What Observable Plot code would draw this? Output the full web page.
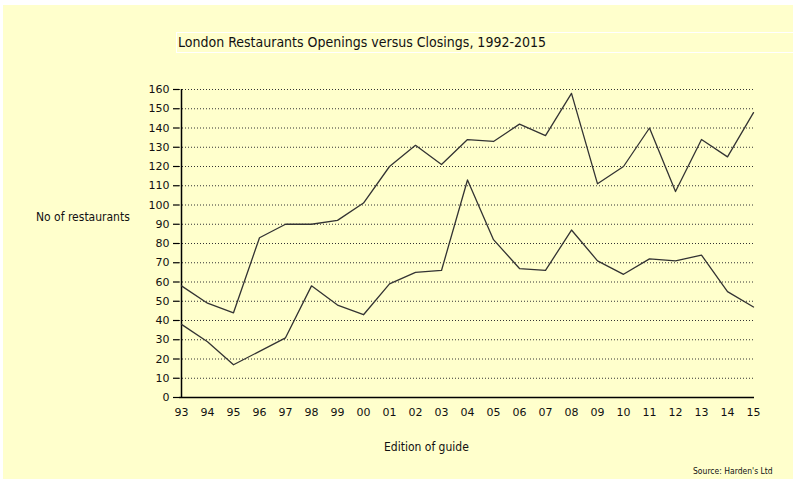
<!DOCTYPE html>
<html>
<head>
<meta charset="utf-8">
<script src="https://cdn.jsdelivr.net/npm/d3@7"></script>
<script src="https://cdn.jsdelivr.net/npm/@observablehq/plot@0.6"></script>
<style>
  html, body { margin: 0; padding: 0; background: #ffffff; }
  #page { position: relative; width: 793px; height: 479px; overflow: hidden; background: #ffffff; }
  #bg { position: absolute; left: 3px; top: 5px; right: 0; bottom: 0; background: #ffffcc; }
  #title { position: absolute; left: 176px; top: 32px; width: 640px; height: 19px; border: 1px solid #ffffff;
           font-family: "DejaVu Sans Condensed", "DejaVu Sans", sans-serif; font-size: 14px; line-height: 19px;
           color: #111; padding-left: 1px; white-space: nowrap; }
  #ylabel { position: absolute; left: 36px; top: 210px; font-family: "DejaVu Sans Condensed", sans-serif;
            font-size: 12px; color: #111; white-space: nowrap; }
  #xlabel { position: absolute; left: 384px; top: 440px; font-family: "DejaVu Sans Condensed", sans-serif;
            font-size: 12px; color: #111; white-space: nowrap; }
  #source { position: absolute; left: 693px; top: 466px; font-family: "DejaVu Sans Condensed", sans-serif;
            font-size: 8.5px; color: #111; white-space: nowrap; }
  #chart { position: absolute; left: 0; top: 0; }
</style>
</head>
<body>
<div id="page">
  <div id="bg"></div>
  <div id="title">London Restaurants Openings versus Closings, 1992-2015</div>
  <div id="chart"></div>
  <div id="ylabel">No of restaurants</div>
  <div id="xlabel">Edition of guide</div>
  <div id="source">Source: Harden's Ltd</div>
</div>
<script>
const editions = ["93","94","95","96","97","98","99","00","01","02","03","04","05","06","07","08","09","10","11","12","13","14","15"];
const openings = [58,49,44,83,90,90,92,101,120,131,121,134,133,142,136,158,111,120,140,107,134,125,148];
const closings = [38,29,17,24,31,58,48,43,59,65,66,113,82,67,66,87,71,64,72,71,74,55,47];
const yTicks = [0,10,20,30,40,50,60,70,80,90,100,110,120,130,140,150,160];
const gridVals = yTicks.filter(v => v > 0);

const openData = editions.map((e, i) => ({edition: e, value: openings[i]}));
const closeData = editions.map((e, i) => ({edition: e, value: closings[i]}));

const chart = Plot.plot({
  width: 793,
  height: 440,
  marginLeft: 179,
  marginRight: 39,
  marginTop: 89,
  marginBottom: 43,
  style: { background: "transparent", fontFamily: "DejaVu Sans, sans-serif", fontSize: "11px", color: "#111" },
  x: { type: "point", domain: editions, padding: 0, label: null },
  y: { domain: [0, 160], label: null },
  marks: [
    Plot.ruleY(gridVals, { stroke: "#333", strokeWidth: 1, strokeDasharray: "1,2" }),
    Plot.axisY(yTicks, { tickSize: 6, tickPadding: 4, stroke: "#000", strokeWidth: 1.2, label: null }),
    Plot.axisX(editions, { tickSize: 0, tickPadding: 11, label: null }),
    Plot.ruleX([editions[0]], { y1: 0, y2: 160, stroke: "#000", strokeWidth: 1.5 }),
    Plot.ruleY([0], { stroke: "#000", strokeWidth: 1.5 }),
    Plot.line(openData, { x: "edition", y: "value", stroke: "#333", strokeWidth: 1.3 }),
    Plot.line(closeData, { x: "edition", y: "value", stroke: "#333", strokeWidth: 1.3 })
  ]
});
document.getElementById("chart").appendChild(chart);
</script>
</body>
</html>
